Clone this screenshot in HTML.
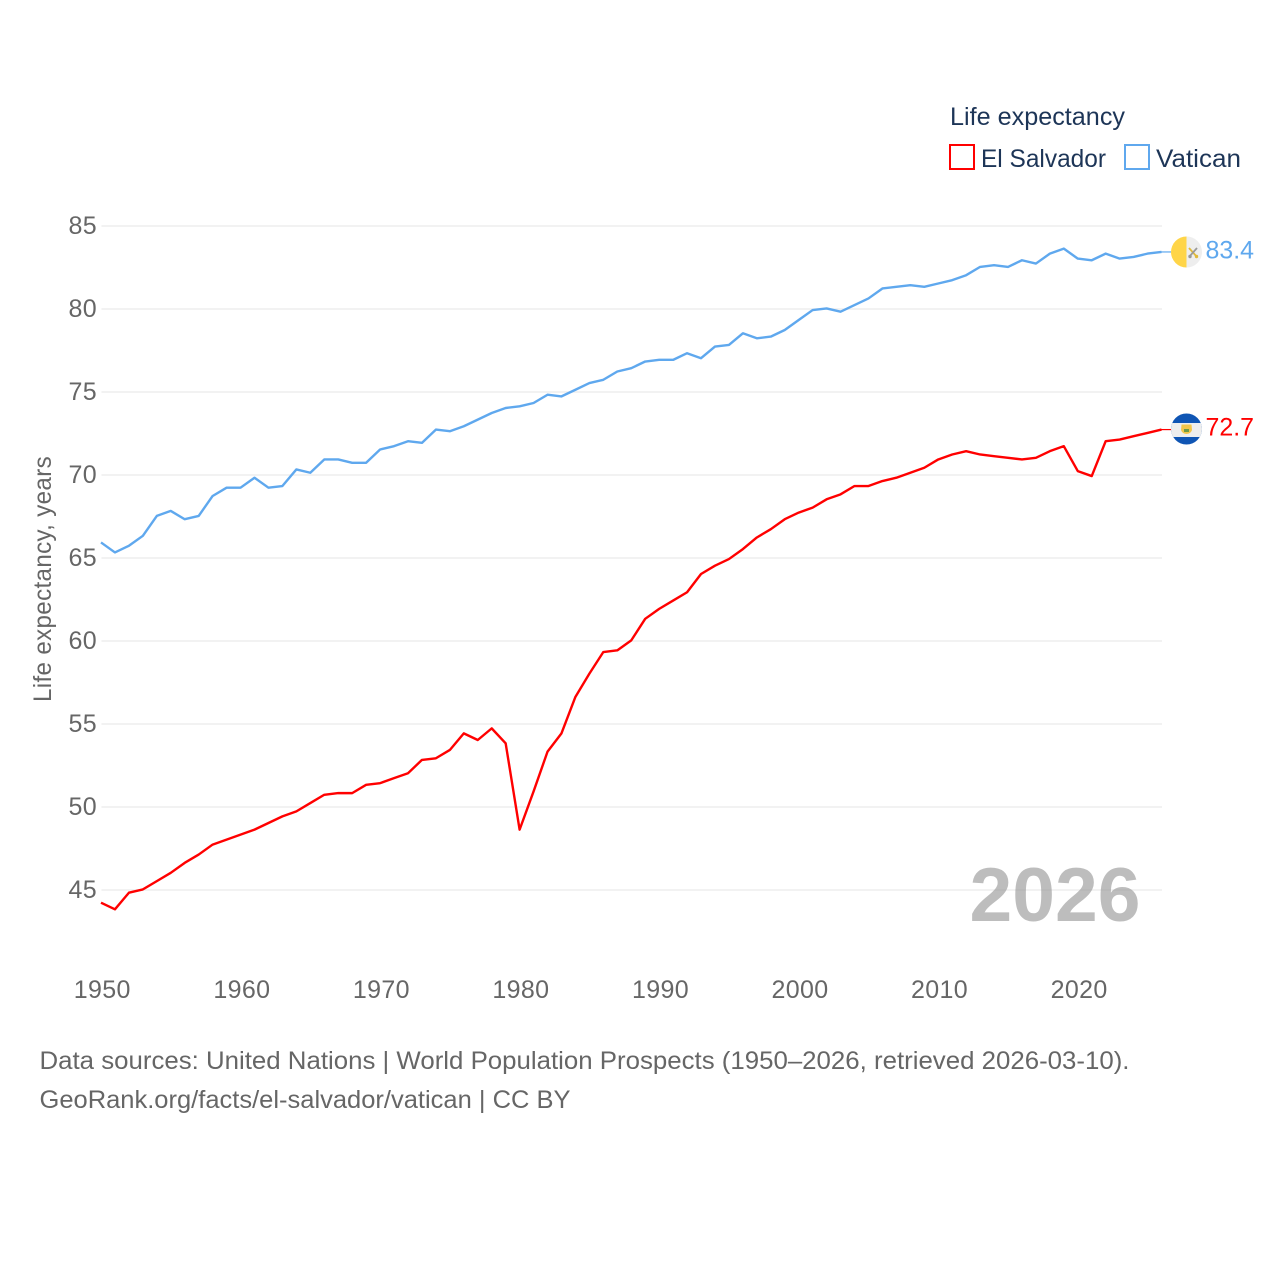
<!DOCTYPE html>
<html lang="en">
<head>
<meta charset="utf-8">
<title>Life expectancy: El Salvador and Vatican</title>
<style>
html,body{margin:0;padding:0;background:#fff;width:1280px;height:1280px;overflow:hidden}
svg{display:block}
text{font-family:"Liberation Sans",sans-serif}
.tick{font-size:25px;fill:#666;letter-spacing:.35px}
.legend{font-size:25px;fill:#1d3557}
.foot{font-size:25px;fill:#666}
</style>
</head>
<body>
<svg id="chart" xmlns="http://www.w3.org/2000/svg" width="1280" height="1280" viewBox="0 0 1280 1280">
  <defs>
    <clipPath id="clip-vatican"><circle cx="1186.5" cy="252" r="15.5"/></clipPath>
    <clipPath id="clip-salvador"><circle cx="1186.5" cy="429" r="15.5"/></clipPath>
  </defs>
  <g id="grid"></g>
  <text x="1055" y="921" text-anchor="middle" font-size="76" font-weight="bold" fill="#999" fill-opacity=".65" textLength="171" lengthAdjust="spacingAndGlyphs">2026</text>
  <g id="yticks"></g>
  <g id="xticks"></g>
  <text transform="translate(51,579) rotate(-90)" text-anchor="middle" class="tick" textLength="246" lengthAdjust="spacingAndGlyphs">Life expectancy, years</text>

  <g>
    <text x="950" y="125" class="legend" textLength="175" lengthAdjust="spacingAndGlyphs">Life expectancy</text>
    <g>
      <rect x="950" y="145" width="24" height="24" fill="#fff" stroke="#ff0000" stroke-width="2"/>
      <text x="981" y="167" class="legend" textLength="125" lengthAdjust="spacingAndGlyphs">El Salvador</text>
    </g>
    <g>
      <rect x="1125" y="145" width="24" height="24" fill="#fff" stroke="#5fa8ee" stroke-width="2"/>
      <text x="1156" y="167" class="legend" textLength="85" lengthAdjust="spacingAndGlyphs">Vatican</text>
    </g>
  </g>

  <path id="line-salvador" transform="translate(-0.5,-0.6)" fill="none" stroke="#ff0000" stroke-width="2.4" stroke-linejoin="round"/>
  <path id="line-vatican" transform="translate(-0.5,-0.6)" fill="none" stroke="#5fa8ee" stroke-width="2.4" stroke-linejoin="round"/>
  <path id="conn-salvador" transform="translate(0,-0.6)" fill="none" stroke="#ff0000" stroke-width="1.2"/>
  <path id="conn-vatican" transform="translate(0,-0.6)" fill="none" stroke="#5fa8ee" stroke-width="1.2"/>

  <g id="flag-vatican" clip-path="url(#clip-vatican)">
    <rect x="1170" y="236" width="16.5" height="32" fill="#ffd548"/>
    <rect x="1186.5" y="236" width="16.5" height="32" fill="#eeeeee"/>
    <path d="M1189 248l8 9" stroke="#e0b93a" stroke-width="1.8"/>
    <path d="M1197 248l-8 9" stroke="#999" stroke-width="1.8"/>
    <circle cx="1190" cy="256.500" r="1.700" fill="#999"/>
    <circle cx="1196.500" cy="256.500" r="1.700" fill="#e0b93a"/>
  </g>
  <g id="flag-salvador" clip-path="url(#clip-salvador)">
    <rect x="1170" y="413" width="33" height="32" fill="#0f55b4"/>
    <rect x="1170" y="423" width="33" height="14" fill="#eeeeee"/>
    <path d="M1181.500 424.500l10 0l0.500 5.500q-1 3.500-5.500 4q-4.500-.5-5.500-4z" fill="#f2c64a"/>
    <rect x="1184" y="429" width="5" height="3" fill="#6d9a45"/>
  </g>

  <text id="val-vatican" x="1205.500" y="258.500" font-size="25" fill="#5fa8ee" textLength="48.500" lengthAdjust="spacingAndGlyphs"></text>
  <text id="val-salvador" x="1205.500" y="435.500" font-size="25" fill="#ff0000" textLength="48.500" lengthAdjust="spacingAndGlyphs"></text>

  <text x="39.500" y="1069" class="foot" textLength="1090" lengthAdjust="spacingAndGlyphs">Data sources: United Nations | World Population Prospects (1950–2026, retrieved 2026-03-10).</text>
  <text x="39.500" y="1108" class="foot" textLength="531" lengthAdjust="spacingAndGlyphs">GeoRank.org/facts/el-salvador/vatican | CC BY</text>
</svg>
<script>
const startYear = 1950;
const yTickValues = [45, 50, 55, 60, 65, 70, 75, 80, 85];
const xTickValues = [1950, 1960, 1970, 1980, 1990, 2000, 2010, 2020];
const elSalvador = [
  44.2,43.8,44.8,45.0,45.5,46.0,46.6,47.1,47.7,48.0,
  48.3,48.6,49.0,49.4,49.7,50.2,50.7,50.8,50.8,51.3,
  51.4,51.7,52.0,52.8,52.9,53.4,54.4,54.0,54.7,53.8,
  48.6,50.9,53.3,54.4,56.6,58.0,59.3,59.4,60.0,61.3,
  61.9,62.4,62.9,64.0,64.5,64.9,65.5,66.2,66.7,67.3,
  67.7,68.0,68.5,68.8,69.3,69.3,69.6,69.8,70.1,70.4,
  70.9,71.2,71.4,71.2,71.1,71.0,70.9,71.0,71.4,71.7,
  70.2,69.9,72.0,72.1,72.3,72.5,72.7
];
const vatican = [
  65.9,65.3,65.7,66.3,67.5,67.8,67.3,67.5,68.7,69.2,
  69.2,69.8,69.2,69.3,70.3,70.1,70.9,70.9,70.7,70.7,
  71.5,71.7,72.0,71.9,72.7,72.6,72.9,73.3,73.7,74.0,
  74.1,74.3,74.8,74.7,75.1,75.5,75.7,76.2,76.4,76.8,
  76.9,76.9,77.3,77.0,77.7,77.8,78.5,78.2,78.3,78.7,
  79.3,79.9,80.0,79.8,80.2,80.6,81.2,81.3,81.4,81.3,
  81.5,81.7,82.0,82.5,82.6,82.5,82.9,82.7,83.3,83.6,
  83.0,82.9,83.3,83.0,83.1,83.3,83.4
];

const NS = 'http://www.w3.org/2000/svg';
function xScale(year) { return 101.5 + (year - 1950) * (1162 - 101.5) / 76; }
function yScale(v) { return 890 - (v - 45) * (890 - 226) / 40; }
function linePath(values) {
  return values.map(function (v, i) {
    return (i ? 'L' : 'M') + xScale(startYear + i).toFixed(2) + ' ' + yScale(v).toFixed(2);
  }).join('');
}

const grid = document.getElementById('grid');
const yticks = document.getElementById('yticks');
const xticks = document.getElementById('xticks');

yTickValues.forEach(function (v) {
  const l = document.createElementNS(NS, 'line');
  l.setAttribute('x1', 101.5);
  l.setAttribute('x2', 1162);
  l.setAttribute('y1', yScale(v));
  l.setAttribute('y2', yScale(v));
  l.setAttribute('stroke', '#eeeeee');
  l.setAttribute('stroke-width', '1.6');
  
  
  grid.appendChild(l);

  const t = document.createElementNS(NS, 'text');
  t.setAttribute('x', 97);
  t.setAttribute('y', yScale(v) + 8);
  t.setAttribute('text-anchor', 'end');
  t.setAttribute('class', 'tick');
  t.textContent = v;
  
  
  yticks.appendChild(t);
});

xTickValues.forEach(function (y) {
  const t = document.createElementNS(NS, 'text');
  t.setAttribute('x', xScale(y) + 0.8);
  t.setAttribute('y', 998);
  t.setAttribute('text-anchor', 'middle');
  t.setAttribute('class', 'tick');
  t.textContent = y;
  
  
  xticks.appendChild(t);
});

document.getElementById('line-salvador').setAttribute('d', linePath(elSalvador));
document.getElementById('line-vatican').setAttribute('d', linePath(vatican));

const lastS = elSalvador[elSalvador.length - 1];
const lastV = vatican[vatican.length - 1];
document.getElementById('conn-salvador').setAttribute('d', 'M1161 ' + yScale(lastS) + 'L1171 ' + yScale(lastS));
document.getElementById('conn-vatican').setAttribute('d', 'M1161 ' + yScale(lastV) + 'L1171 ' + yScale(lastV));
document.getElementById('val-salvador').textContent = lastS.toFixed(1);
document.getElementById('val-vatican').textContent = lastV.toFixed(1);
</script>
</body>
</html>
